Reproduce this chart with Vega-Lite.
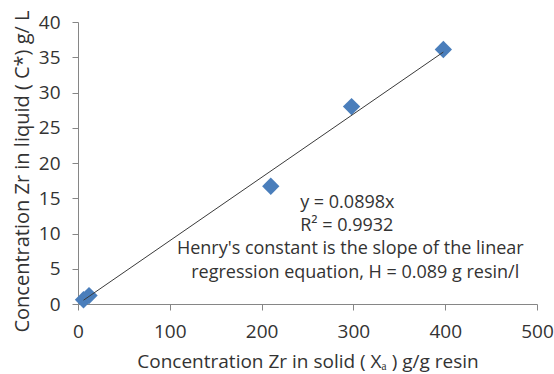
{
  "$schema": "https://vega.github.io/schema/vega-lite/v6.json",
  "width": 459,
  "height": 282,
  "autosize": {"type": "none"},
  "padding": {"left": 78, "top": 22, "right": 17, "bottom": 70},
  "background": "white",
  "config": {
    "view": {"stroke": null},
    "font": "Open Sans",
    "axis": {
      "grid": false,
      "domainColor": "#868686",
      "tickColor": "#868686",
      "tickSize": 6,
      "labelColor": "#333333",
      "titleColor": "#333333",
      "labelFont": "Open Sans",
      "titleFont": "Open Sans",
      "labelFontSize": 19,
      "titleFontSize": 19,
      "titleFontWeight": "normal",
      "labelFlush": false,
      "labelOverlap": false
    }
  },
  "datasets": {
    "points": [
      {"solid": 6, "liquid": 0.6},
      {"solid": 12, "liquid": 1.2},
      {"solid": 210, "liquid": 16.7},
      {"solid": 298, "liquid": 28.0},
      {"solid": 398, "liquid": 36.1}
    ],
    "trend": [
      {"solid": 6, "liquid": 0.539},
      {"solid": 398, "liquid": 35.74}
    ],
    "notes": [
      {"solid": 242, "liquid": 13.64, "label": "y = 0.0898x", "align": "left"},
      {"solid": 242, "liquid": 10.38, "label": "R² = 0.9932", "align": "left"},
      {"solid": 296.6, "liquid": 7.13, "label": "Henry's constant is the slope of the linear", "align": "center"},
      {"solid": 302, "liquid": 3.73, "label": "regression equation, H = 0.089 g resin/l", "align": "center"}
    ]
  },
  "encoding": {
    "x": {
      "field": "solid",
      "type": "quantitative",
      "scale": {"domain": [0, 500], "nice": false},
      "axis": {
        "values": [0, 100, 200, 300, 400, 500],
        "labelBaseline": "alphabetic",
        "labelPadding": 27,
        "title": "Concentration Zr in solid ( Xₐ ) g/g resin",
        "titleBaseline": "alphabetic",
        "titleY": 63
      }
    },
    "y": {
      "field": "liquid",
      "type": "quantitative",
      "scale": {"domain": [0, 40], "nice": false},
      "axis": {
        "values": [0, 5, 10, 15, 20, 25, 30, 35, 40],
        "labelPadding": 12,
        "title": "Concentration Zr in liquid ( C*) g/ L",
        "titleFontSize": 20,
        "titleBaseline": "alphabetic",
        "titleX": -50,
        "titleY": 149
      }
    }
  },
  "layer": [
    {
      "data": {"name": "points"},
      "mark": {"type": "point", "shape": "diamond", "filled": true, "size": 300, "color": "#4A7EBB", "opacity": 1}
    },
    {
      "data": {"name": "trend"},
      "mark": {"type": "line", "color": "#3a3a3a", "strokeWidth": 1}
    },
    {
      "data": {"name": "notes"},
      "transform": [{"filter": "datum.align === 'left'"}],
      "mark": {"type": "text", "align": "left", "baseline": "alphabetic", "fontSize": 18, "color": "#333333", "font": "Open Sans"},
      "encoding": {"text": {"field": "label"}}
    },
    {
      "data": {"name": "notes"},
      "transform": [{"filter": "datum.align === 'center'"}],
      "mark": {"type": "text", "align": "center", "baseline": "alphabetic", "fontSize": 18, "color": "#333333", "font": "Open Sans"},
      "encoding": {"text": {"field": "label"}}
    }
  ]
}
